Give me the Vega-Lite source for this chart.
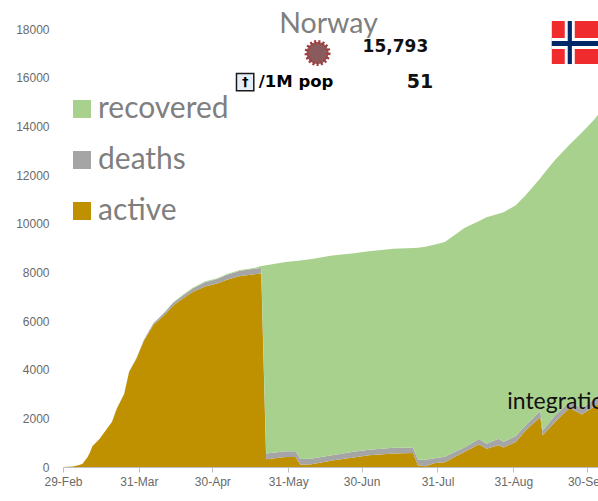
{"$schema":"https://vega.github.io/schema/vega-lite/v6.json","width":535,"height":438,"autosize":"none","padding":{"left":63,"top":29,"right":0,"bottom":34},"background":"white","config":{"view":{"stroke":null}},
"layer":[
{"data":{"values":[
{"date":"2020-02-29","active":0,"deaths":0,"recovered":0},
{"date":"2020-03-04","active":25,"deaths":0,"recovered":0},
{"date":"2020-03-07","active":90,"deaths":0,"recovered":0},
{"date":"2020-03-08","active":130,"deaths":0,"recovered":0},
{"date":"2020-03-10","active":400,"deaths":0,"recovered":1},
{"date":"2020-03-11","active":600,"deaths":0,"recovered":1},
{"date":"2020-03-12","active":850,"deaths":1,"recovered":1},
{"date":"2020-03-15","active":1160,"deaths":3,"recovered":1},
{"date":"2020-03-18","active":1580,"deaths":5,"recovered":1},
{"date":"2020-03-20","active":1850,"deaths":7,"recovered":1},
{"date":"2020-03-22","active":2400,"deaths":8,"recovered":6},
{"date":"2020-03-25","active":3000,"deaths":12,"recovered":6},
{"date":"2020-03-27","active":3900,"deaths":20,"recovered":7},
{"date":"2020-03-30","active":4450,"deaths":26,"recovered":7},
{"date":"2020-04-02","active":5180,"deaths":30,"recovered":10},
{"date":"2020-04-04","active":5520,"deaths":50,"recovered":12},
{"date":"2020-04-06","active":5850,"deaths":60,"recovered":15},
{"date":"2020-04-08","active":6020,"deaths":80,"recovered":15},
{"date":"2020-04-11","active":6300,"deaths":100,"recovered":20},
{"date":"2020-04-14","active":6640,"deaths":110,"recovered":20},
{"date":"2020-04-18","active":6920,"deaths":130,"recovered":25},
{"date":"2020-04-22","active":7190,"deaths":150,"recovered":25},
{"date":"2020-04-27","active":7420,"deaths":170,"recovered":30},
{"date":"2020-05-02","active":7540,"deaths":190,"recovered":30},
{"date":"2020-05-06","active":7700,"deaths":200,"recovered":30},
{"date":"2020-05-11","active":7840,"deaths":215,"recovered":30},
{"date":"2020-05-17","active":7920,"deaths":225,"recovered":32},
{"date":"2020-05-20","active":7950,"deaths":230,"recovered":80},
{"date":"2020-05-22","active":315,"deaths":235,"recovered":7740},
{"date":"2020-05-30","active":410,"deaths":235,"recovered":7775},
{"date":"2020-06-03","active":410,"deaths":235,"recovered":7825},
{"date":"2020-06-05","active":90,"deaths":235,"recovered":8165},
{"date":"2020-06-09","active":100,"deaths":235,"recovered":8205},
{"date":"2020-06-18","active":270,"deaths":210,"recovered":8210},
{"date":"2020-06-26","active":380,"deaths":240,"recovered":8150},
{"date":"2020-07-03","active":480,"deaths":230,"recovered":8160},
{"date":"2020-07-13","active":550,"deaths":245,"recovered":8175},
{"date":"2020-07-21","active":575,"deaths":220,"recovered":8205},
{"date":"2020-07-23","active":70,"deaths":240,"recovered":8700},
{"date":"2020-07-26","active":30,"deaths":270,"recovered":8750},
{"date":"2020-07-30","active":160,"deaths":195,"recovered":8785},
{"date":"2020-08-03","active":200,"deaths":220,"recovered":8830},
{"date":"2020-08-07","active":410,"deaths":210,"recovered":8910},
{"date":"2020-08-11","active":620,"deaths":180,"recovered":9020},
{"date":"2020-08-17","active":930,"deaths":220,"recovered":8960},
{"date":"2020-08-20","active":750,"deaths":210,"recovered":9300},
{"date":"2020-08-25","active":890,"deaths":275,"recovered":9245},
{"date":"2020-08-27","active":800,"deaths":230,"recovered":9440},
{"date":"2020-09-01","active":1030,"deaths":240,"recovered":9490},
{"date":"2020-09-05","active":1500,"deaths":210,"recovered":9460},
{"date":"2020-09-11","active":2050,"deaths":250,"recovered":9570},
{"date":"2020-09-12","active":1300,"deaths":200,"recovered":10500},
{"date":"2020-09-17","active":1850,"deaths":270,"recovered":10500},
{"date":"2020-09-23","active":2420,"deaths":250,"recovered":10580},
{"date":"2020-09-28","active":2160,"deaths":240,"recovered":11350},
{"date":"2020-10-03","active":2490,"deaths":310,"recovered":11470},
{"date":"2020-10-05","active":2600,"deaths":400,"recovered":11530}
]},
"transform":[{"fold":["active","deaths","recovered"],"as":["series","cases"]}],
"mark":{"type":"area","clip":true,"interpolate":"linear"},
"encoding":{
"x":{"field":"date","type":"temporal","scale":{"type":"utc","domain":["2020-02-29","2020-10-04T14:00:00"]},
"axis":{"title":null,"values":["2020-02-29","2020-03-31","2020-04-30","2020-05-31","2020-06-30","2020-07-31","2020-08-31","2020-09-30"],"format":"%d-%b","grid":false,"domainColor":"#bfbfbf","tickColor":"#bfbfbf","tickSize":5,"labelColor":"#6a6a6a","labelFontSize":12,"labelFont":"Liberation Sans","labelPadding":4,"labelOverlap":false,"labelBound":false,"labelFlush":false}},
"y":{"field":"cases","type":"quantitative","stack":"zero","scale":{"domain":[0,18000],"nice":false},
"axis":{"title":null,"values":[0,2000,4000,6000,8000,10000,12000,14000,16000,18000],"format":"d","grid":false,"domain":false,"ticks":false,"labelColor":"#6a6a6a","labelFontSize":12,"labelFont":"Liberation Sans","labelPadding":14}},
"color":{"field":"series","type":"nominal","scale":{"domain":["recovered","deaths","active"],"range":["#A9D18E","#A5A5A5","#BF9000"]},
"legend":{"title":null,"orient":"none","legendX":4,"legendY":65,"symbolType":"square","symbolSize":324,"symbolStrokeWidth":0,"symbolOpacity":1,"labelFontSize":30,"labelFont":"Lato","labelColor":"#7f7f7f","labelOffset":1,"rowPadding":21,"labelLimit":300}},
"order":{"field":"series","sort":"ascending"}}},
{"data":{"values":[{"start":"2020-09-15T17:00:00","end":"2020-10-06","top":18330,"bottom":16560}]},"mark":{"type":"rect","fill":"#EF2B2D"},"encoding":{"x":{"field":"start","type":"temporal"},"x2":{"field":"end"},"y":{"field":"top","type":"quantitative"},"y2":{"field":"bottom"}}},
{"data":{"values":[{"start":"2020-09-21","end":"2020-09-25T02:00:00","top":18330,"bottom":16560},{"start":"2020-09-15T17:00:00","end":"2020-10-06","top":17630,"bottom":17180}]},"mark":{"type":"rect","fill":"#ffffff"},"encoding":{"x":{"field":"start","type":"temporal"},"x2":{"field":"end"},"y":{"field":"top","type":"quantitative"},"y2":{"field":"bottom"}}},
{"data":{"values":[{"start":"2020-09-22T05:00:00","end":"2020-09-23T22:00:00","top":18330,"bottom":16560},{"start":"2020-09-15T17:00:00","end":"2020-10-06","top":17510,"bottom":17300}]},"mark":{"type":"rect","fill":"#002868"},"encoding":{"x":{"field":"start","type":"temporal"},"x2":{"field":"end"},"y":{"field":"top","type":"quantitative"},"y2":{"field":"bottom"}}},
{"data":{"values":[{"date":"2020-06-12","value":17015}]},"mark":{"type":"point","shape":"circle","filled":true,"size":480,"fill":"#8a5a5c","stroke":"#a23c3c","strokeWidth":4,"strokeDash":[2,2],"opacity":1},"encoding":{"x":{"field":"date","type":"temporal"},"y":{"field":"value","type":"quantitative"}}},
{"data":{"values":[{"date":"2020-05-13T10:00:00","value":15820}]},"mark":{"type":"point","shape":"square","filled":true,"size":300,"fill":"#e6eef8","stroke":"#1a1a1a","strokeWidth":1.5,"opacity":1},"encoding":{"x":{"field":"date","type":"temporal"},"y":{"field":"value","type":"quantitative"}}},
{"data":{"values":[{"label":"†","date":"2020-05-13T10:00:00","value":15820}]},"mark":{"type":"text","align":"center","baseline":"middle","font":"DejaVu Sans","fontSize":13,"fontWeight":"bold","color":"#000000"},"encoding":{"x":{"field":"date","type":"temporal"},"y":{"field":"value","type":"quantitative"},"text":{"field":"label"}}},
{"data":{"values":[{"label":"Norway","date":"2020-06-16T12:00:00","value":18220}]},"mark":{"type":"text","align":"center","baseline":"middle","font":"Lato","fontSize":28.5,"color":"#7f7f7f"},"encoding":{"x":{"field":"date","type":"temporal"},"y":{"field":"value","type":"quantitative"},"text":{"field":"label"}}},
{"data":{"values":[{"label":"15,793","date":"2020-06-30T10:00:00","value":17260}]},"mark":{"type":"text","align":"left","baseline":"middle","font":"DejaVu Sans","fontSize":17,"fontWeight":"bold","color":"#111111"},"encoding":{"x":{"field":"date","type":"temporal"},"y":{"field":"value","type":"quantitative"},"text":{"field":"label"}}},
{"data":{"values":[{"label":"/1M pop","date":"2020-05-19T00:00:00","value":15820}]},"mark":{"type":"text","align":"left","baseline":"middle","font":"DejaVu Sans","fontSize":16.5,"fontWeight":"bold","color":"#000000"},"encoding":{"x":{"field":"date","type":"temporal"},"y":{"field":"value","type":"quantitative"},"text":{"field":"label"}}},
{"data":{"values":[{"label":"51","date":"2020-07-18T10:00:00","value":15820}]},"mark":{"type":"text","align":"left","baseline":"middle","font":"DejaVu Sans","fontSize":19,"fontWeight":"bold","color":"#111111"},"encoding":{"x":{"field":"date","type":"temporal"},"y":{"field":"value","type":"quantitative"},"text":{"field":"label"}}},
{"data":{"values":[{"label":"integration","date":"2020-08-28T12:00:00","value":2690}]},"mark":{"type":"text","align":"left","baseline":"middle","font":"Lato","fontSize":23,"color":"#111111"},"encoding":{"x":{"field":"date","type":"temporal"},"y":{"field":"value","type":"quantitative"},"text":{"field":"label"}}}
]}
